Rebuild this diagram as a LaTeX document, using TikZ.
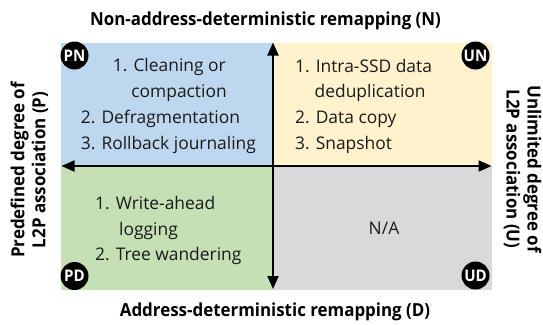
\documentclass[tikz,border=0pt]{standalone}
\usepackage{fontspec}
\setmainfont{Open Sans}
\newfontfamily\condbold{Open Sans}[FakeStretch=0.94]
\usetikzlibrary{arrows.meta}
\definecolor{qblue}{HTML}{BDD7EE}
\definecolor{qyellow}{HTML}{FFF2CC}
\definecolor{qgreen}{HTML}{C5E0B4}
\definecolor{qgray}{HTML}{D9D9D9}
\definecolor{txt}{HTML}{1A1A1A}
\tikzset{
  quad/.style={draw=none},
  item/.style={anchor=base west, inner sep=0pt, text=txt, font=\fontsize{17.4}{20}\selectfont},
  axislbl/.style={inner sep=0pt, text=black, font=\condbold\bfseries\fontsize{18}{21}\selectfont},
  badge/.style={circle, fill=black, text=white, inner sep=0pt, minimum size=28pt, font=\condbold\bfseries\fontsize{16}{16}\selectfont},
  axisline/.style={line width=2pt, black, arrows={Triangle[length=13pt,width=11pt]-Triangle[length=13pt,width=11pt]}}
}
\begin{document}
\begin{tikzpicture}[x=1pt,y=-1pt]
\useasboundingbox (0,0) rectangle (543,324);
% quadrants
\fill[qblue]   (60.5,43) rectangle (273,166);
\fill[qyellow] (273,43) rectangle (491.5,166);
\fill[qgreen]  (60.5,166) rectangle (273,289.5);
\fill[qgray]   (273,166) rectangle (491.5,289.5);
% axes
\coordinate (vtop) at (273,42.5);
\coordinate (vbot) at (273,289);
\coordinate (hleft) at (61.5,166);
\coordinate (hright) at (491.5,166);
\draw[axisline] (hleft) -- (hright);
\draw[axisline] (vbot) -- (vtop);
% PN quadrant
\node[item] (pn1) at (112.7,71.5) {1. Cleaning or};
\node[item] (pn1b) at (131.2,97) {compaction};
\node[item] (pn2) at (80.7,123) {2. Defragmentation};
\node[item] (pn3) at (80.7,149) {3. Rollback journaling};
% UN quadrant
\node[item] (un1) at (295,72) {1. Intra-SSD data};
\node[item] (un1b) at (314.5,97.5) {deduplication};
\node[item] (un2) at (295,123) {2. Data copy};
\node[item] (un3) at (295,149) {3. Snapshot};
% PD quadrant
\node[item] (pd1) at (95,209.3) {1. Write-ahead};
\node[item] (pd1b) at (119,235) {logging};
\node[item] (pd2) at (95,260.7) {2. Tree wandering};
% UD quadrant
\node[inner sep=0pt, text=txt, font=\fontsize{17.4}{20}\selectfont] (na) at (384,228) {N/A};
% badges
\node[badge] (bpn) at (74.5,55.5) {PN};
\node[badge] (bun) at (475.5,55.5) {UN};
\node[badge] (bpd) at (74.5,276) {PD};
\node[badge] (bud) at (475.5,275.5) {UD};
% axis labels
\node[axislbl, anchor=base] (tN) at (265.5,25.7) {Non-address-deterministic remapping (N)};
\node[axislbl, anchor=base] (tD) at (275,316.7) {Address-deterministic remapping (D)};
\node[axislbl, align=center, rotate=90] (tP) at (29.5,170) {Predefined degree of\\L2P association (P)};
\node[axislbl, align=center, rotate=-90] (tU) at (522.5,169) {Unlimited degree of\\L2P association (U)};
\end{tikzpicture}
\end{document}
